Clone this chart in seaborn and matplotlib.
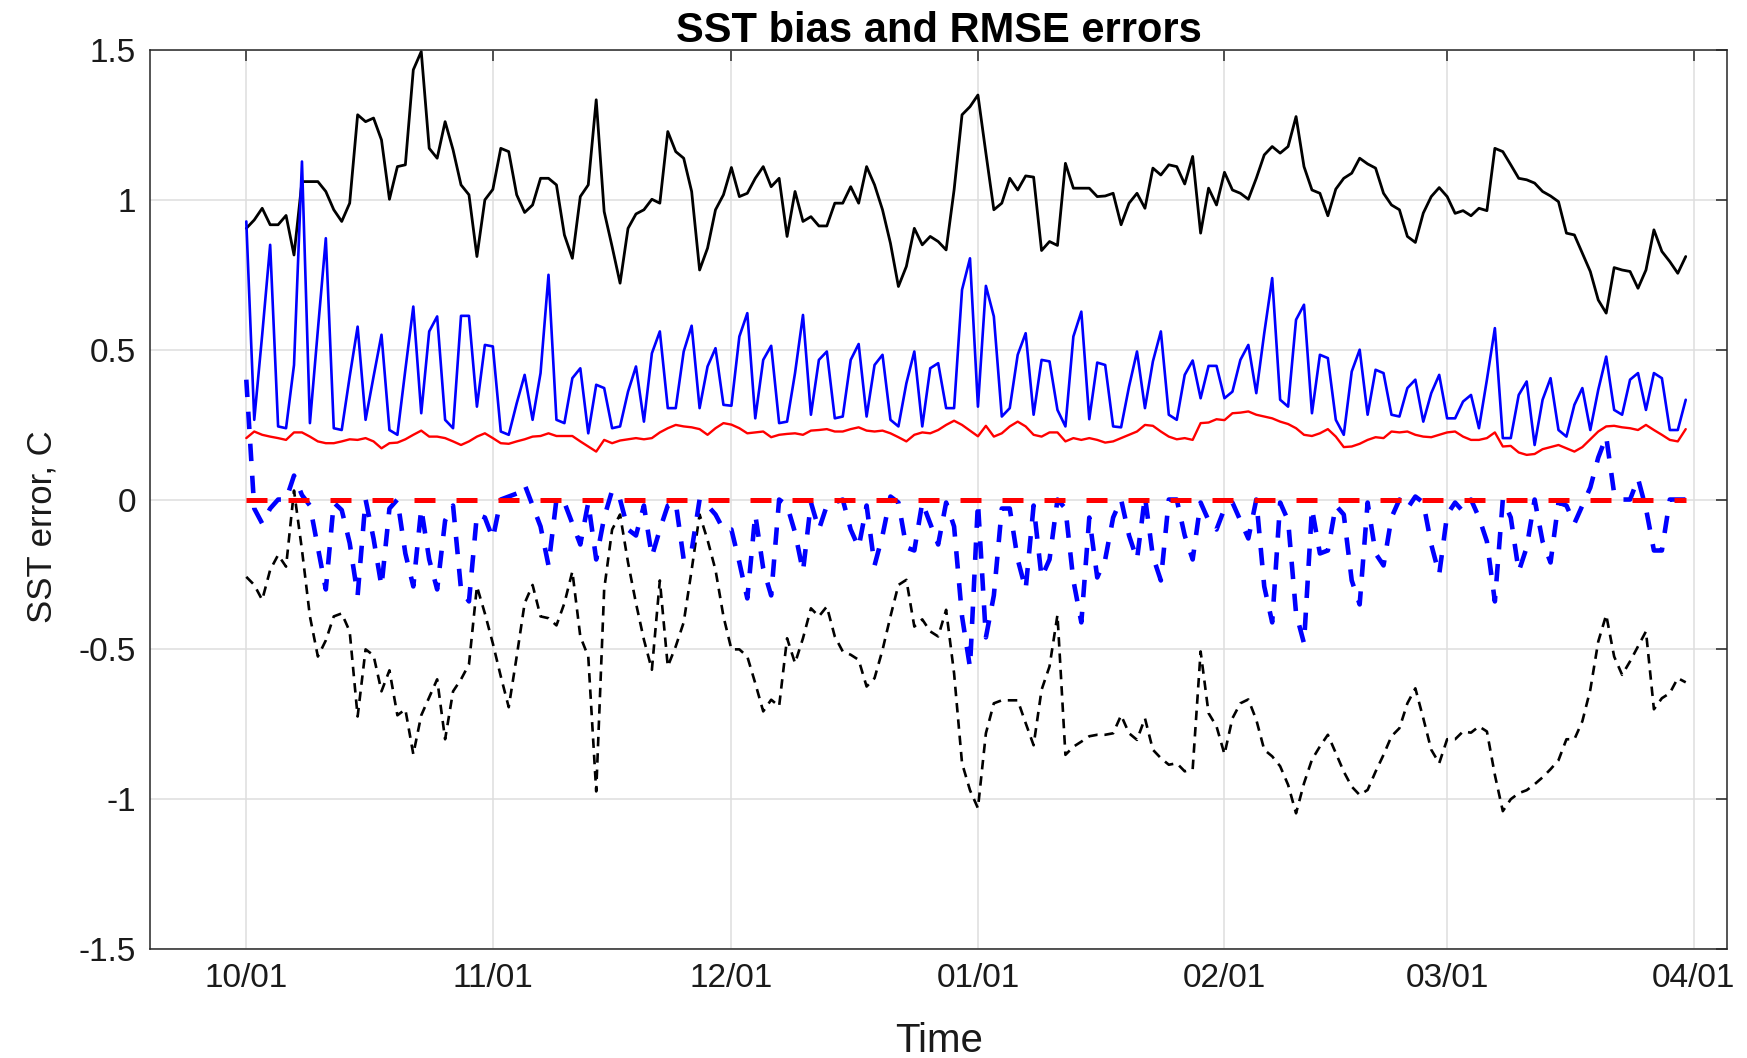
import numpy as np
import pandas as pd
import matplotlib
matplotlib.use("Agg")
import matplotlib.pyplot as plt
import seaborn as sns

# Daily samples, 1 Oct 2014 .. 31 Mar 2015
start_date = "2014-10-01"
n_days = 182
dates = pd.date_range(start_date, periods=n_days, freq="D")

# RMSE (solid) and bias (dashed) of SST, deg C
black_rmse = [
    0.905, 0.933, 0.972, 0.917, 0.917, 0.948, 0.816, 1.061, 1.061, 1.061,
    1.028, 0.967, 0.928, 0.989, 1.284, 1.261, 1.273, 1.200, 1.002, 1.111,
    1.117, 1.434, 1.495, 1.172, 1.139, 1.261, 1.167, 1.050, 1.017, 0.811,
    1.000, 1.035, 1.172, 1.161, 1.017, 0.958, 0.983, 1.072, 1.072, 1.050,
    0.883, 0.805, 1.011, 1.050, 1.334, 0.961, 0.844, 0.722, 0.905, 0.953,
    0.967, 1.002, 0.989, 1.228, 1.161, 1.139, 1.028, 0.766, 0.839, 0.967,
    1.017, 1.108, 1.011, 1.022, 1.072, 1.111, 1.044, 1.072, 0.878, 1.028,
    0.928, 0.944, 0.913, 0.913, 0.989, 0.989, 1.044, 0.989, 1.111, 1.050,
    0.967, 0.855, 0.711, 0.778, 0.905, 0.850, 0.878, 0.861, 0.833, 1.033,
    1.284, 1.311, 1.350, 1.156, 0.967, 0.989, 1.072, 1.033, 1.080, 1.076,
    0.831, 0.861, 0.848, 1.122, 1.039, 1.039, 1.039, 1.011, 1.013, 1.022,
    0.917, 0.989, 1.022, 0.972, 1.106, 1.083, 1.117, 1.111, 1.053, 1.145,
    0.889, 1.039, 0.983, 1.092, 1.033, 1.022, 1.002, 1.072, 1.150, 1.178,
    1.156, 1.178, 1.278, 1.111, 1.033, 1.022, 0.947, 1.036, 1.072, 1.089,
    1.139, 1.120, 1.106, 1.022, 0.983, 0.967, 0.878, 0.858, 0.956, 1.011,
    1.041, 1.011, 0.955, 0.964, 0.947, 0.972, 0.964, 1.172, 1.161, 1.117,
    1.072, 1.067, 1.056, 1.028, 1.013, 0.994, 0.889, 0.883, 0.822, 0.761,
    0.666, 0.622, 0.774, 0.766, 0.761, 0.705, 0.766, 0.900, 0.828, 0.794,
    0.755, 0.811,
]

blue_rmse = [
    0.928, 0.266, 0.550, 0.850, 0.244, 0.238, 0.449, 1.128, 0.255, 0.566,
    0.872, 0.238, 0.232, 0.410, 0.577, 0.266, 0.410, 0.550, 0.232, 0.216,
    0.433, 0.644, 0.288, 0.561, 0.611, 0.266, 0.238, 0.613, 0.613, 0.310,
    0.516, 0.511, 0.227, 0.216, 0.321, 0.416, 0.266, 0.422, 0.750, 0.266,
    0.255, 0.405, 0.438, 0.221, 0.383, 0.372, 0.238, 0.244, 0.360, 0.444,
    0.260, 0.488, 0.561, 0.305, 0.305, 0.494, 0.580, 0.305, 0.444, 0.505,
    0.316, 0.313, 0.544, 0.622, 0.271, 0.466, 0.513, 0.255, 0.260, 0.422,
    0.616, 0.283, 0.466, 0.494, 0.271, 0.277, 0.466, 0.519, 0.277, 0.449,
    0.483, 0.266, 0.244, 0.388, 0.494, 0.244, 0.438, 0.455, 0.305, 0.305,
    0.700, 0.805, 0.310, 0.713, 0.611, 0.277, 0.305, 0.483, 0.555, 0.283,
    0.466, 0.461, 0.299, 0.244, 0.544, 0.627, 0.268, 0.457, 0.449, 0.244,
    0.241, 0.377, 0.494, 0.305, 0.461, 0.561, 0.283, 0.266, 0.416, 0.464,
    0.338, 0.446, 0.446, 0.338, 0.360, 0.466, 0.516, 0.355, 0.555, 0.739,
    0.333, 0.310, 0.600, 0.650, 0.288, 0.483, 0.472, 0.266, 0.216, 0.427,
    0.500, 0.283, 0.433, 0.422, 0.283, 0.277, 0.372, 0.400, 0.260, 0.355,
    0.416, 0.271, 0.271, 0.327, 0.349, 0.238, 0.400, 0.572, 0.205, 0.205,
    0.349, 0.394, 0.182, 0.333, 0.405, 0.232, 0.210, 0.316, 0.372, 0.232,
    0.366, 0.477, 0.299, 0.283, 0.400, 0.422, 0.299, 0.422, 0.405, 0.232,
    0.232, 0.333,
]

red_rmse = [
    0.205, 0.227, 0.216, 0.210, 0.205, 0.199, 0.224, 0.224, 0.210, 0.194,
    0.188, 0.188, 0.194, 0.201, 0.199, 0.205, 0.194, 0.171, 0.188, 0.190,
    0.201, 0.216, 0.230, 0.210, 0.210, 0.205, 0.194, 0.182, 0.194, 0.210,
    0.221, 0.205, 0.188, 0.186, 0.194, 0.201, 0.210, 0.212, 0.221, 0.212,
    0.212, 0.212, 0.194, 0.177, 0.160, 0.199, 0.188, 0.197, 0.201, 0.205,
    0.201, 0.205, 0.224, 0.238, 0.249, 0.244, 0.241, 0.235, 0.216, 0.238,
    0.255, 0.250, 0.238, 0.221, 0.224, 0.227, 0.208, 0.216, 0.219, 0.221,
    0.216, 0.230, 0.232, 0.235, 0.227, 0.227, 0.235, 0.241, 0.230, 0.227,
    0.230, 0.221, 0.208, 0.194, 0.216, 0.224, 0.221, 0.232, 0.249, 0.263,
    0.249, 0.230, 0.211, 0.246, 0.210, 0.221, 0.244, 0.260, 0.244, 0.216,
    0.210, 0.224, 0.224, 0.194, 0.205, 0.199, 0.205, 0.199, 0.190, 0.194,
    0.205, 0.216, 0.227, 0.249, 0.246, 0.227, 0.210, 0.201, 0.205, 0.199,
    0.255, 0.257, 0.268, 0.265, 0.288, 0.290, 0.294, 0.283, 0.277, 0.271,
    0.260, 0.252, 0.238, 0.216, 0.212, 0.221, 0.235, 0.210, 0.175, 0.177,
    0.186, 0.199, 0.208, 0.205, 0.227, 0.224, 0.227, 0.216, 0.210, 0.208,
    0.216, 0.224, 0.227, 0.210, 0.199, 0.199, 0.205, 0.224, 0.177, 0.179,
    0.157, 0.149, 0.152, 0.168, 0.175, 0.182, 0.171, 0.160, 0.175, 0.201,
    0.227, 0.244, 0.246, 0.241, 0.238, 0.232, 0.249, 0.232, 0.216, 0.199,
    0.194, 0.235,
]

black_bias = [
    -0.258, -0.285, -0.335, -0.235, -0.185, -0.224, 0.030, -0.168, -0.390, -0.524,
    -0.470, -0.390, -0.380, -0.440, -0.724, -0.500, -0.520, -0.640, -0.570, -0.720,
    -0.700, -0.850, -0.720, -0.660, -0.600, -0.800, -0.640, -0.600, -0.550, -0.290,
    -0.380, -0.480, -0.590, -0.693, -0.524, -0.346, -0.285, -0.390, -0.396, -0.420,
    -0.346, -0.240, -0.457, -0.524, -0.974, -0.300, -0.100, -0.050, -0.210, -0.346,
    -0.468, -0.568, -0.270, -0.557, -0.490, -0.410, -0.235, -0.050, -0.135, -0.235,
    -0.390, -0.500, -0.500, -0.524, -0.613, -0.707, -0.668, -0.690, -0.463, -0.546,
    -0.463, -0.363, -0.390, -0.357, -0.457, -0.507, -0.518, -0.535, -0.624, -0.596,
    -0.502, -0.390, -0.285, -0.268, -0.424, -0.400, -0.440, -0.457, -0.368, -0.580,
    -0.880, -0.970, -1.030, -0.780, -0.680, -0.670, -0.670, -0.670, -0.746, -0.820,
    -0.635, -0.557, -0.385, -0.852, -0.825, -0.808, -0.790, -0.785, -0.785, -0.780,
    -0.720, -0.780, -0.802, -0.730, -0.835, -0.863, -0.885, -0.880, -0.907, -0.900,
    -0.507, -0.713, -0.757, -0.850, -0.730, -0.680, -0.667, -0.735, -0.835, -0.857,
    -0.890, -0.952, -1.047, -0.947, -0.868, -0.824, -0.785, -0.846, -0.908, -0.958,
    -0.986, -0.969, -0.908, -0.852, -0.790, -0.763, -0.680, -0.630, -0.730, -0.835,
    -0.880, -0.800, -0.800, -0.774, -0.778, -0.757, -0.774, -0.919, -1.040, -1.000,
    -0.980, -0.970, -0.950, -0.927, -0.900, -0.870, -0.800, -0.800, -0.740, -0.635,
    -0.474, -0.385, -0.524, -0.585, -0.540, -0.490, -0.440, -0.700, -0.663, -0.646,
    -0.596, -0.610,
]

blue_bias = [
    0.400, -0.030, -0.080, -0.030, 0.000, 0.000, 0.080, 0.015, -0.020, -0.160,
    -0.300, -0.010, -0.035, -0.145, -0.320, 0.000, -0.130, -0.290, -0.030, 0.000,
    -0.180, -0.290, -0.030, -0.200, -0.300, -0.070, -0.020, -0.300, -0.340, -0.050,
    -0.060, -0.130, 0.000, 0.010, 0.020, 0.050, -0.020, -0.090, -0.220, 0.000,
    -0.010, -0.080, -0.150, -0.010, -0.200, -0.060, 0.030, 0.000, -0.100, -0.120,
    -0.020, -0.190, -0.100, -0.020, -0.010, -0.200, -0.170, 0.000, -0.020, -0.050,
    -0.100, -0.100, -0.210, -0.330, -0.050, -0.230, -0.320, 0.000, -0.020, -0.110,
    -0.240, -0.010, -0.100, -0.020, -0.010, 0.000, -0.100, -0.160, -0.020, -0.220,
    -0.120, 0.010, -0.010, -0.160, -0.170, -0.010, -0.080, -0.150, -0.010, -0.090,
    -0.390, -0.560, -0.010, -0.460, -0.320, -0.030, -0.030, -0.200, -0.300, -0.020,
    -0.260, -0.200, 0.000, -0.030, -0.270, -0.410, -0.060, -0.260, -0.200, -0.060,
    0.000, -0.120, -0.200, 0.010, -0.190, -0.270, 0.000, 0.000, -0.120, -0.200,
    -0.010, -0.070, -0.100, -0.030, -0.010, -0.070, -0.130, 0.000, -0.290, -0.410,
    -0.010, -0.070, -0.380, -0.480, -0.030, -0.180, -0.170, -0.020, -0.050, -0.270,
    -0.350, -0.010, -0.180, -0.220, -0.060, 0.000, -0.030, 0.010, -0.010, -0.150,
    -0.250, -0.050, -0.010, -0.040, 0.000, -0.060, -0.140, -0.340, 0.000, -0.060,
    -0.240, -0.160, 0.000, -0.140, -0.210, -0.010, -0.020, -0.080, -0.020, 0.040,
    0.140, 0.210, 0.020, 0.000, 0.000, 0.070, -0.030, -0.170, -0.170, 0.000,
    0.000, 0.000,
]

red_bias = [0.0] * n_days

month_ticks = ["2014-10-01", "2014-11-01", "2014-12-01", "2015-01-01",
               "2015-02-01", "2015-03-01", "2015-04-01"]
month_labels = ["10/01", "11/01", "12/01", "01/01", "02/01", "03/01", "04/01"]
y_ticks = [-1.5, -1.0, -0.5, 0.0, 0.5, 1.0, 1.5]
y_labels = ["-1.5", "-1", "-0.5", "0", "0.5", "1", "1.5"]

sns.set_theme(style="white")
plt.rcParams["font.family"] = ["Liberation Sans", "DejaVu Sans"]
plt.rcParams["axes.unicode_minus"] = False

fig = plt.figure(figsize=(17.47, 10.58), dpi=100)
ax = fig.add_axes([0.0859, 0.103, 0.9027, 0.8497])

series = [
    (black_rmse, "black", 2.0, "-"),
    (black_bias, "black", 1.9, (0, (3.6, 2.6))),
    (blue_rmse, "#0000ff", 1.9, "-"),
    (blue_bias, "#0000ff", 3.3, (0, (3.8, 3.2))),
    (red_rmse, "#ff0000", 1.7, "-"),
    (red_bias, "#ff0000", 3.6, (0, (4.2, 4.2))),
]
for values, color, lw, ls in series:
    sns.lineplot(x=dates, y=values, color=color, linewidth=lw,
                 linestyle=ls, estimator=None, ax=ax)

t0 = pd.Timestamp(start_date)
ax.set_xlim(t0 - pd.Timedelta(days=12.1), t0 + pd.Timedelta(days=186.2))
ax.set_ylim(-1.5, 1.5)
ax.set_xticks(pd.to_datetime(month_ticks))
ax.set_xticklabels(month_labels)
ax.set_yticks(y_ticks)
ax.set_yticklabels(y_labels)

ax.grid(True, color="#dedede", linewidth=1.1)
ax.set_axisbelow(True)
for sp in ax.spines.values():
    sp.set_color("#262626")
    sp.set_linewidth(1.1)
ax.tick_params(axis="both", which="both", direction="in", length=8, width=1.1,
               color="#262626", top=True, right=True, labelsize=24,
               labelcolor="#1a1a1a", pad=10)
ax.tick_params(axis="y", pad=10)

ax.set_title("SST bias and RMSE errors", fontsize=30, fontweight="bold",
             color="black", pad=6)
ax.set_xlabel("Time", fontsize=29, color="#1a1a1a", labelpad=20)
ax.set_ylabel("SST error, C", fontsize=25, color="#1a1a1a")
ax.yaxis.set_label_coords(-0.058, 0.47)

fig.savefig("out.png", dpi=100, facecolor="white")
